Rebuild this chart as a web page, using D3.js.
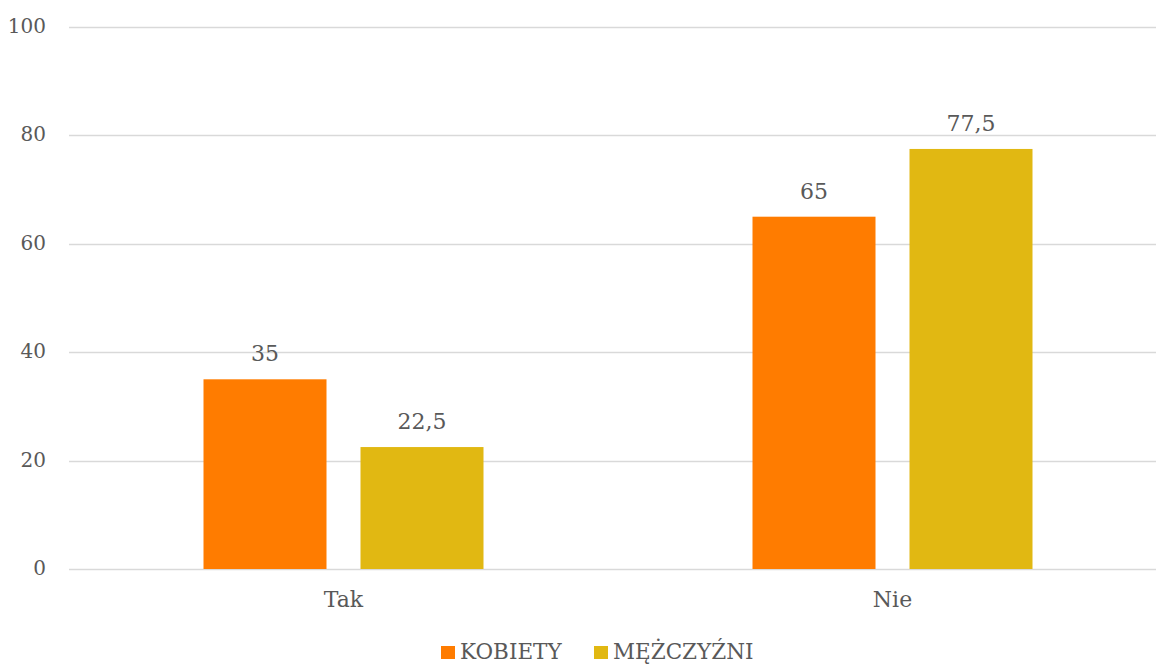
<!DOCTYPE html>
<html><head><meta charset="utf-8">
<script src="https://cdn.jsdelivr.net/npm/d3@7"></script>
<style>body{margin:0;background:#fff}svg{display:block}</style>
</head><body>
<svg id="c" width="1156" height="666" font-family="'DejaVu Serif', serif" fill="#595959"></svg>
<script>
const categories = ["Tak", "Nie"];
const seriesNames = ["KOBIETY", "MĘŻCZYŹNI"];
const kobiety = [35, 65];
const mezczyzni = [22.5, 77.5];
const yTicks = [0, 20, 40, 60, 80, 100];
const colors = ["#FF7C00", "#E1B812"];

const svg = d3.select("#c");
const x0 = d3.scaleBand().domain(categories).range([69, 1167]);
const y = d3.scaleLinear().domain([0, 100]).range([569, 27]);
const barW = 123, gap = 34;
const groupW = 2 * barW + gap;
const x1 = d3.scaleBand().domain(seriesNames).range([0, groupW]).paddingInner(gap / (barW + gap));

svg.append("g").selectAll("line").data(yTicks).join("line")
  .attr("x1", 69).attr("x2", 1156)
  .attr("y1", d => Math.round(y(d)) + 0.5).attr("y2", d => Math.round(y(d)) + 0.5)
  .attr("stroke", "#d9d9d9").attr("stroke-width", 1.3);

svg.append("g").selectAll("text").data(yTicks).join("text")
  .attr("x", 46).attr("y", d => y(d) + 6)
  .attr("text-anchor", "end").attr("font-size", 20).text(d => d);

const data = categories.map((c, i) => ({ c, vals: [kobiety[i], mezczyzni[i]] }));
const g = svg.append("g").selectAll("g").data(data).join("g")
  .attr("transform", d => `translate(${x0(d.c) + x0.bandwidth() / 2 - groupW / 2},0)`);
g.selectAll("rect").data(d => d.vals.map((v, j) => ({ v, s: seriesNames[j], j }))).join("rect")
  .attr("x", d => x1(d.s)).attr("width", x1.bandwidth())
  .attr("y", d => y(d.v)).attr("height", d => y(0) - y(d.v))
  .attr("fill", d => colors[d.j]);
g.selectAll("text").data(d => d.vals.map((v, j) => ({ v, s: seriesNames[j] }))).join("text")
  .attr("x", d => x1(d.s) + x1.bandwidth() / 2).attr("y", d => y(d.v) - 18)
  .attr("text-anchor", "middle").attr("font-size", 22)
  .text(d => String(d.v).replace(".", ","));

svg.append("g").selectAll("text").data(categories).join("text")
  .attr("x", d => x0(d) + x0.bandwidth() / 2).attr("y", 607)
  .attr("text-anchor", "middle").attr("font-size", 22).text(d => d);

const leg = svg.append("g");
const lx = [441, 594];
seriesNames.forEach((s, i) => {
  leg.append("rect").attr("x", lx[i]).attr("y", 646).attr("width", 14).attr("height", 13).attr("fill", colors[i]);
  leg.append("text").attr("x", lx[i] + 19).attr("y", 659).attr("font-size", 21.5).text(s);
});
</script>
</body></html>
